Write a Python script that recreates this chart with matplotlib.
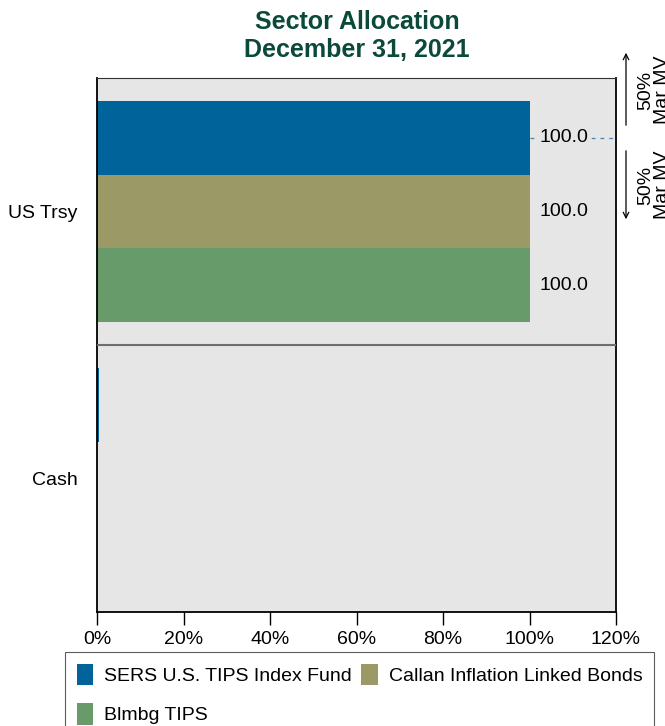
import numpy as np
from matplotlib import pyplot as plt
from matplotlib.patches import Patch

plt.rcParams['font.family'] = ['Liberation Sans', 'DejaVu Sans']

# chart data
sectors = ['US Trsy', 'Cash']
series = ['SERS U.S. TIPS Index Fund', 'Callan Inflation Linked Bonds', 'Blmbg TIPS']
values = {
    'SERS U.S. TIPS Index Fund': [100.0, 0.5],
    'Callan Inflation Linked Bonds': [100.0, 0.0],
    'Blmbg TIPS': [100.0, 0.0],
}
colors = ['#00649b', '#9b9a67', '#679b69']
xticks = [0, 20, 40, 60, 80, 100, 120]


def main():
    fig = plt.figure(figsize=(6.65, 7.26), dpi=100)
    ax = fig.add_axes([97 / 665, 1 - 612 / 726, 519 / 665, 534 / 726])
    bg = '#e6e6e6'
    ax.set_facecolor(bg)

    bar_h = 0.277
    ypos = np.arange(len(sectors))
    for i, name in enumerate(series):
        offs = (i - 1) * bar_h
        vals = values[name]
        ax.barh(ypos + offs, vals, height=bar_h, color=colors[i], zorder=2)
        for y, v in zip(ypos + offs, vals):
            if v >= 1:
                ax.text(v + 2.3, y, f'{v:.1f}', va='center', ha='left', fontsize=14,
                        zorder=4, bbox=dict(facecolor=bg, edgecolor='none', pad=0.5))

    # dashed marker line for the top bar
    ax.plot([100, 120], [ypos[0] - bar_h] * 2, ls=(0, (3, 4)), color='#4a80b0', lw=0.9, zorder=3)

    # divider between sectors
    ax.axhline(0.5, color='#6e6e6e', lw=1.5, zorder=3)

    ax.set_xlim(0, 120)
    ax.set_ylim(1.5, -0.5)
    ax.set_xticks(xticks)
    ax.set_xticklabels([f'{t}%' for t in xticks], fontsize=14)
    ax.set_yticks(ypos)
    ax.set_yticklabels(sectors, fontsize=14)
    ax.tick_params(axis='y', length=0, pad=14)
    ax.tick_params(axis='x', length=9, width=1, direction='out', pad=5)
    for s in ['left', 'bottom', 'right']:
        ax.spines[s].set_color('black')
        ax.spines[s].set_linewidth(1.3)
    ax.spines['top'].set_color('#333333')
    ax.spines['top'].set_linewidth(0.8)

    fig.text(0.537, 1 - 22 / 726, 'Sector Allocation', ha='center', va='center',
             fontsize=18, fontweight='bold', color='#0b4a3b')
    fig.text(0.537, 1 - 50 / 726, 'December 31, 2021', ha='center', va='center',
             fontsize=18, fontweight='bold', color='#0b4a3b')

    # right side annotations
    ax_x = 626 / 665
    ax.annotate('', xy=(ax_x, 1 - 50 / 726), xytext=(ax_x, 1 - 128 / 726),
                xycoords='figure fraction', textcoords='figure fraction',
                arrowprops=dict(arrowstyle='->', color='black', lw=0.9))
    ax.annotate('', xy=(ax_x, 1 - 222 / 726), xytext=(ax_x, 1 - 148 / 726),
                xycoords='figure fraction', textcoords='figure fraction',
                arrowprops=dict(arrowstyle='->', color='black', lw=0.9))
    for yc in [90, 185]:
        fig.text(654 / 665, 1 - yc / 726, '50%\nMar MV', rotation=90, ha='center',
                 va='center', fontsize=14, linespacing=0.95)

    handles = [Patch(facecolor=c, edgecolor='none') for c in colors]
    order = [0, 2, 1]
    leg = fig.legend([handles[i] for i in order], [series[i] for i in order], ncol=2,
                     loc='upper left', bbox_to_anchor=(65 / 665, 1 - 652 / 726),
                     borderaxespad=0, fontsize=14, frameon=True, fancybox=False,
                     handlelength=0.85, handleheight=1.3, handletextpad=0.55,
                     columnspacing=0.5, borderpad=0.6, labelspacing=0.95)
    leg.get_frame().set_edgecolor('#333333')
    leg.get_frame().set_linewidth(0.8)

    fig.savefig('out.png', dpi=100)


if __name__ == '__main__':
    main()
